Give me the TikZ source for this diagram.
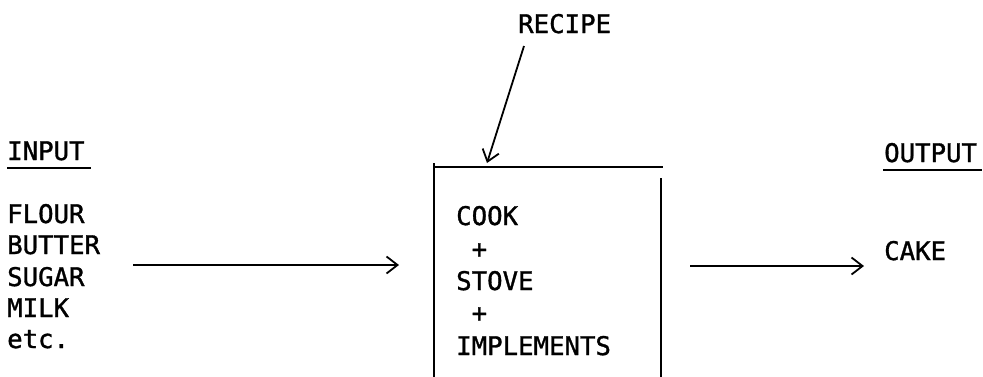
\documentclass[tikz,border=0pt]{standalone}
\usepackage{fontspec}
\setmonofont[FakeBold=1.2]{DejaVu Sans Mono}
\usetikzlibrary{arrows.meta}
\begin{document}
\begin{tikzpicture}[x=1pt,y=-1pt,
  lbl/.style={font=\ttfamily\fontsize{25.7}{32}\selectfont, inner sep=0pt, anchor=base west},
  wire/.style={line width=1.8pt},
  arr/.style={wire, -{Straight Barb[length=11pt,width=17pt,line width=1.8pt]}}]
  \useasboundingbox (0,0) rectangle (983,376);

  % input column
  \node[lbl] (inhead) at (7,160) {INPUT};
  \draw[wire] (7,168) coordinate (inulA) -- (91,168) coordinate (inulB);
  \node[lbl] (flour)  at (7,223) {FLOUR};
  \node[lbl] (butter) at (7,254) {BUTTER};
  \node[lbl] (sugar)  at (7,286) {SUGAR};
  \node[lbl] (milk)   at (7,317) {MILK};
  \node[lbl] (etc)    at (7,348) {etc.};

  % process box, open at the bottom
  \coordinate (boxTL) at (434,167);
  \coordinate (boxTR) at (663,167);
  \coordinate (boxBL) at (434,380);
  \coordinate (boxRT) at (661,178);
  \coordinate (boxBR) at (661,380);
  \draw[wire] (434,163) -- (boxBL);
  \draw[wire] (boxTL) -- (boxTR);
  \draw[wire] (boxRT) -- (boxBR);
  \node[lbl] (cook)   at (456,225) {COOK};
  \node[lbl] (plusA)  at (471.5,258) {+};
  \node[lbl] (stove)  at (456,290) {STOVE};
  \node[lbl] (plusB)  at (471.5,322) {+};
  \node[lbl] (impl)   at (456,355) {IMPLEMENTS};

  % recipe feeding into the top of the box
  \node[lbl] (recipe) at (518,33) {RECIPE};
  \coordinate (recipeFoot) at (524,46);
  \coordinate (recipeTip)  at (487,163);
  \draw[arr] (recipeFoot) -- (recipeTip);

  % output column
  \node[lbl] (outhead) at (884,162) {OUTPUT};
  \draw[wire] (883,170) coordinate (outulA) -- (982,170) coordinate (outulB);
  \node[lbl] (cake) at (884,260) {CAKE};

  % flow arrows
  \coordinate (inStart)  at (133,265);
  \coordinate (inEnd)    at (399,265);
  \coordinate (outStart) at (690,266);
  \coordinate (outEnd)   at (864,266);
  \draw[arr] (inStart) -- (inEnd);
  \draw[arr] (outStart) -- (outEnd);
\end{tikzpicture}
\end{document}
